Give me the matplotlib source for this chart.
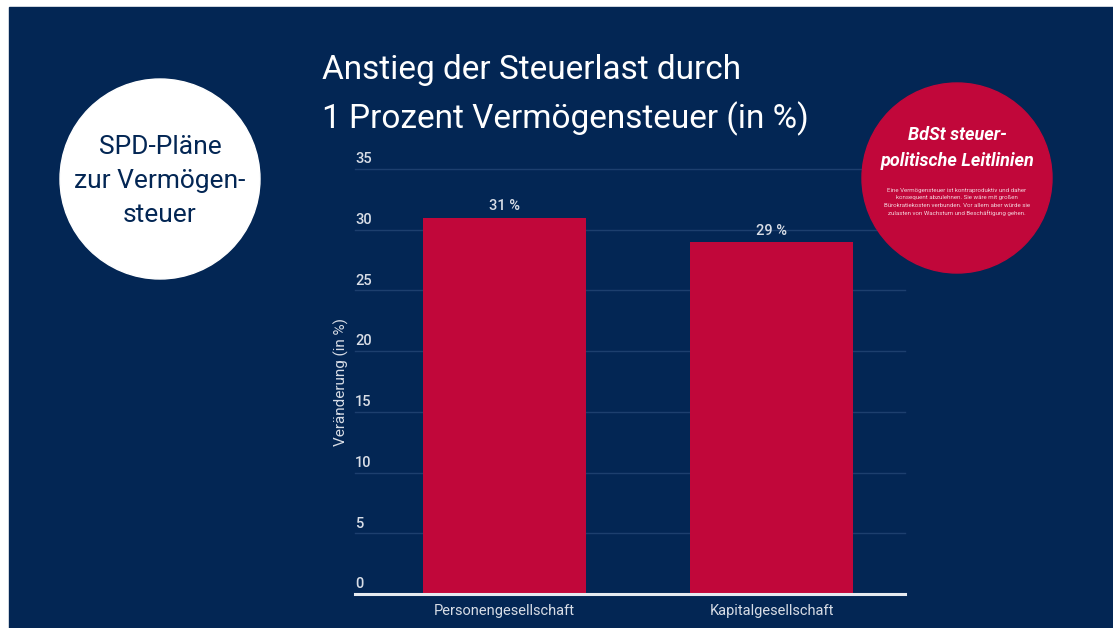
import matplotlib.pyplot as plt
import matplotlib.patches as mpatches
import matplotlib.transforms as mtransforms
import numpy as np

# Daten
kategorien = ["Personengesellschaft", "Kapitalgesellschaft"]
werte = [31, 29]
werte_labels = ["31 %", "29 %"]
y_ticks = [0, 5, 10, 15, 20, 25, 30, 35]

titel = "Anstieg der Steuerlast durch\n1 Prozent Vermögensteuer (in %)"
y_titel = "Veränderung (in %)"
spd_text = "SPD-Pläne\nzur Vermögen-\nsteuer"
bdst_titel = "BdSt steuer-\npolitische Leitlinien"
bdst_text = ("Eine Vermögensteuer ist kontraproduktiv und daher\n"
             "konsequent abzulehnen. Sie wäre mit großen\n"
             "Bürokratiekosten verbunden. Vor allem aber würde sie\n"
             "zulasten von Wachstum und Beschäftigung gehen.")

navy = "#032654"
rot = "#c1073a"
hell = "#d8dde6"

plt.rcParams['font.family'] = ['Roboto', 'DejaVu Sans']

W, H = 1113, 628
fig = plt.figure(figsize=(W / 100, H / 100), dpi=100, facecolor="white")

# Hintergrund (mit weißem Rand links/oben)
fig.patches.append(mpatches.Rectangle((9 / W, 0), 1 - 9 / W, 1 - 7 / H,
                                      transform=fig.transFigure, color=navy, zorder=-10))

# Diagramm
ax = fig.add_axes([355 / W, 1 - 594 / H, 550 / W, 425 / H])
ax.set_facecolor("none")
x = np.arange(len(kategorien))
ax.bar(x, werte, width=0.61, color=rot, zorder=2)
ax.set_xlim(-0.56, 1.5)
ax.set_ylim(0, 35)
for s in ax.spines.values():
    s.set_visible(False)
ax.axhline(0, color="#e6eaf0", lw=2.2, zorder=3, clip_on=False)
for t in y_ticks[1:]:
    ax.axhline(t, color="#1d3f6e", lw=1, zorder=1, clip_on=False)
ax.set_yticks([])
ax.set_xticks(x)
ax.set_xticklabels(kategorien, color=hell, fontsize=10.5)
ax.tick_params(axis="x", length=0, pad=7)

trans = mtransforms.blended_transform_factory(ax.transAxes, ax.transData)
for t in y_ticks:
    ax.annotate(str(t), (0.0, t), xycoords=trans, xytext=(0, 2), textcoords="offset points",
                ha="left", va="bottom", color=hell, fontsize=10.5, fontweight="medium")
for xi, v, lab in zip(x, werte, werte_labels):
    ax.annotate(lab, (xi, v), xytext=(0, 3), textcoords="offset points",
                ha="center", va="bottom", color=hell, fontsize=10.5, fontweight="medium")

ax.set_ylabel(y_titel, color=hell, fontsize=11, labelpad=4)

fig.text(322 / W, 1 - 95 / H, titel, color="white", fontsize=24,
         ha="left", va="center", linespacing=1.6)

# Kreise oben drauf
ov = fig.add_axes([0, 0, 1, 1])
ov.set_xlim(0, W)
ov.set_ylim(H, 0)
ov.axis("off")
ov.patch.set_alpha(0)
ov.add_patch(mpatches.Circle((160, 179), 100, color="white", zorder=5))
ov.text(160, 181, spd_text, ha="center", va="center", color=navy,
        fontsize=19, linespacing=1.55, zorder=6)
ov.add_patch(mpatches.Circle((957, 178), 95, color=rot, zorder=5))
ov.text(957, 148, bdst_titel, ha="center", va="center", color="white",
        fontsize=13, fontweight="bold", fontstyle="italic", linespacing=1.55, zorder=6)
ov.text(957, 202, bdst_text, ha="center", va="center", color="#f3d4dc",
        fontsize=4.4, linespacing=1.55, zorder=6)

fig.savefig("out.png", dpi=100, facecolor=fig.get_facecolor())
